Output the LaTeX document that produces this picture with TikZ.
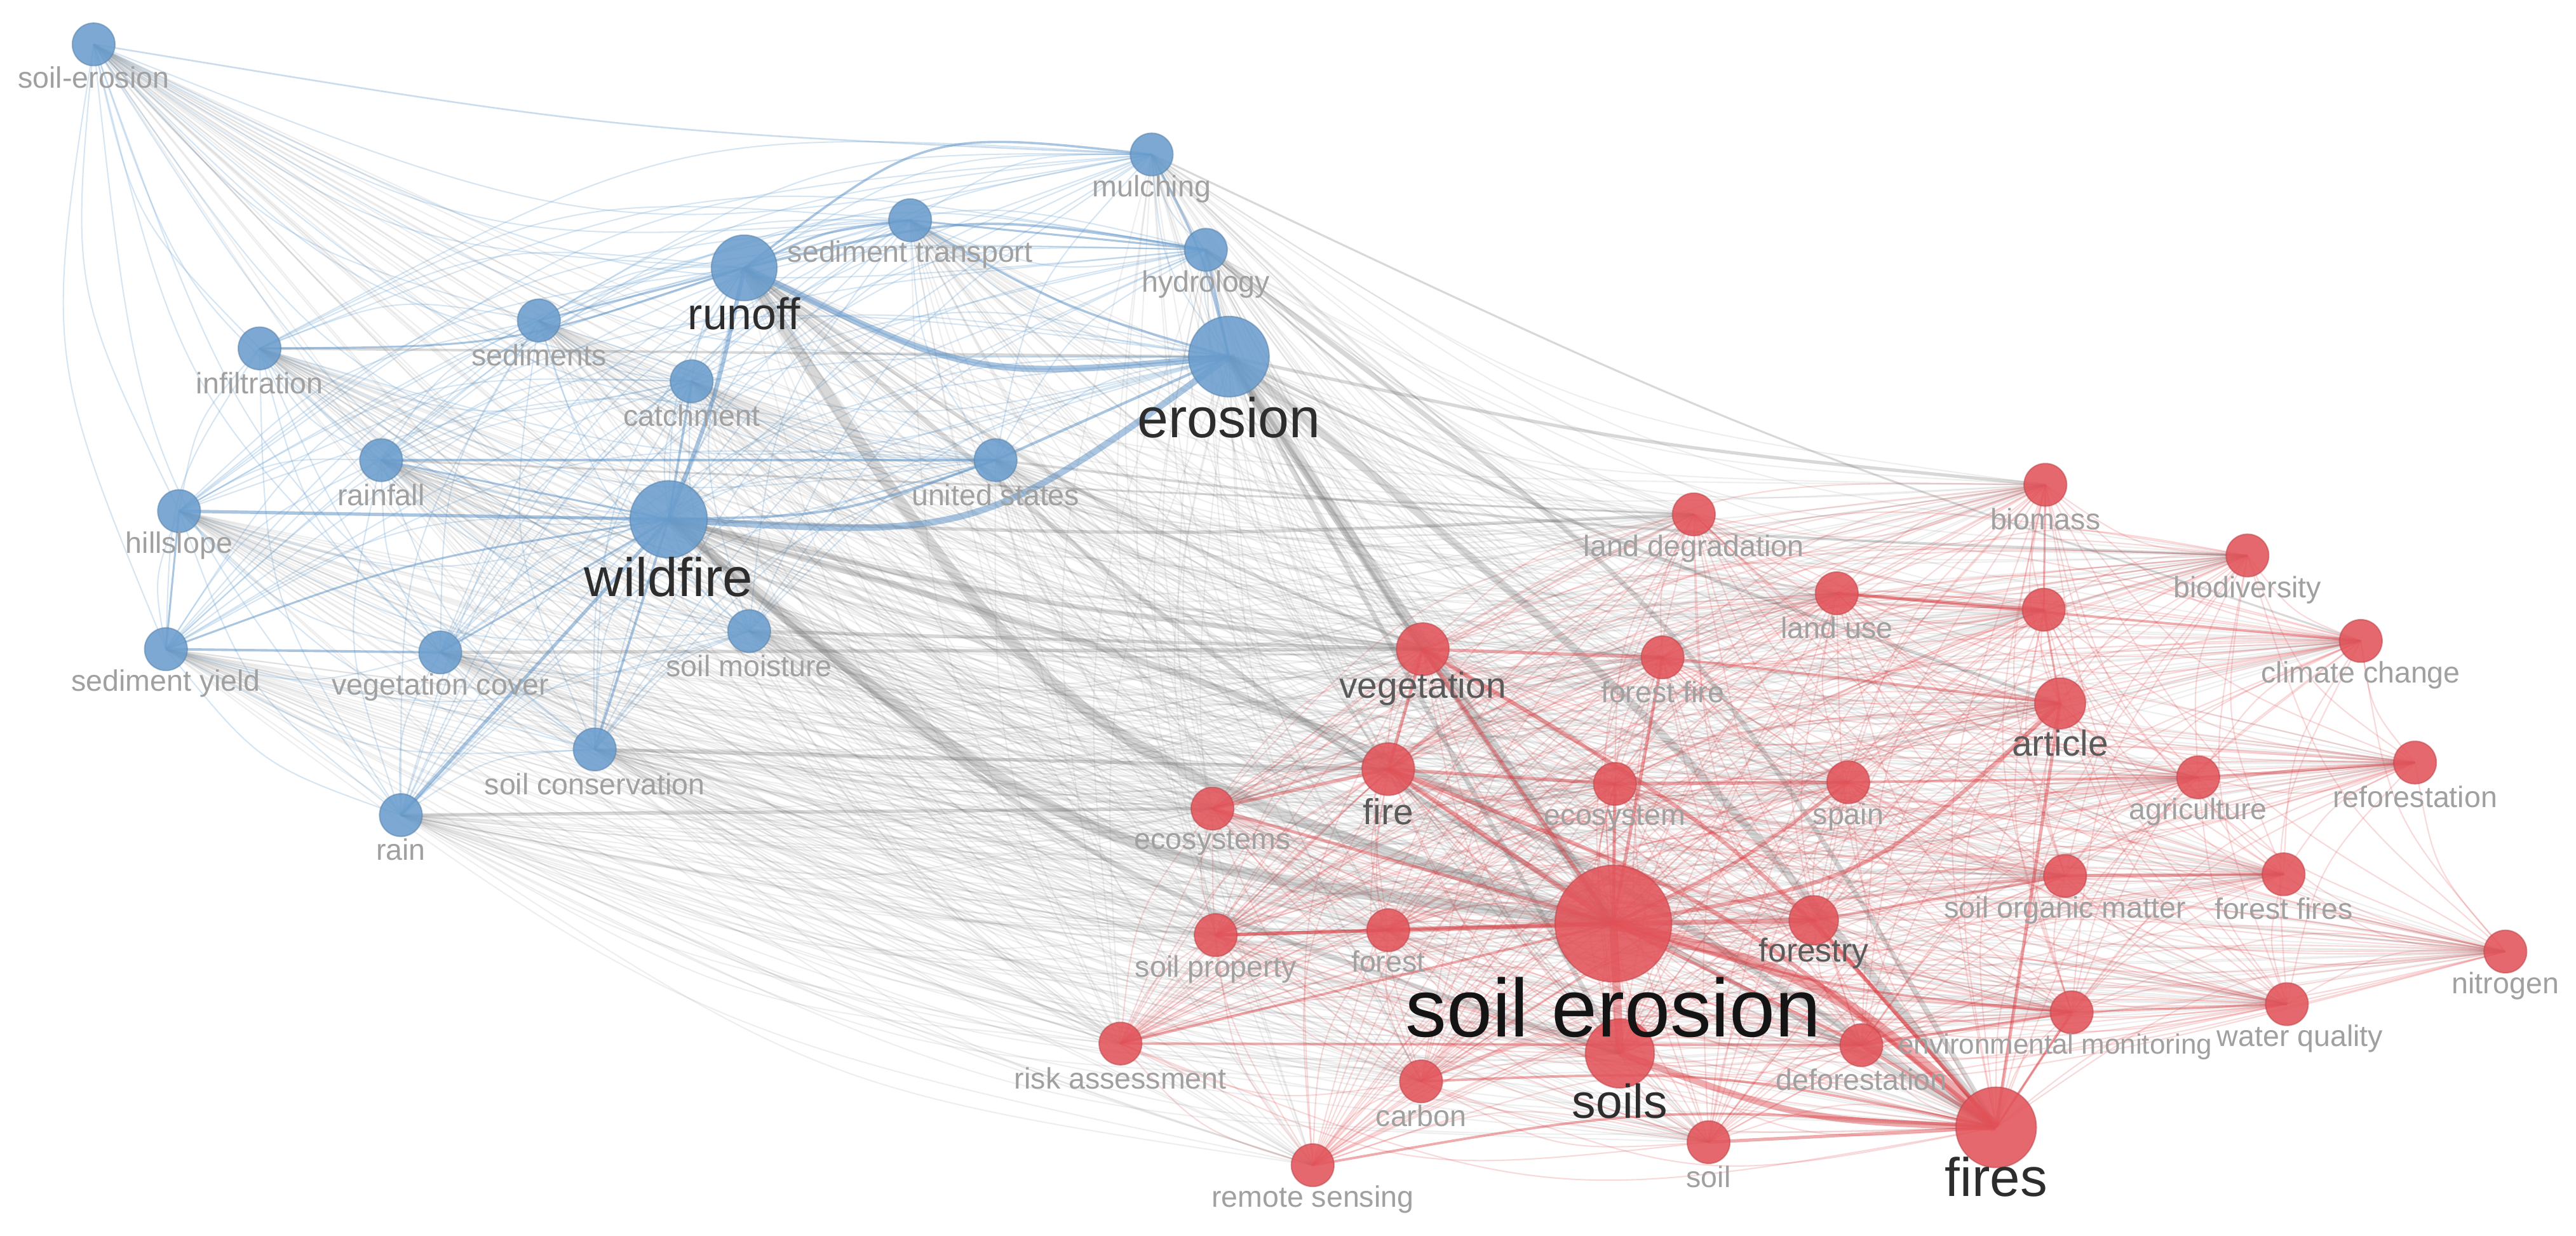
\documentclass[tikz,border=0pt]{standalone}
\usepackage{fontspec}
\setmainfont{Liberation Sans}
\usetikzlibrary{calc}
\pgfdeclarelayer{edges}
\pgfsetlayers{edges,main}
\definecolor{nblue}{RGB}{106,157,205}
\definecolor{nred}{RGB}{226,84,90}
\definecolor{eblue}{RGB}{120,170,215}
\definecolor{eblued}{RGB}{85,140,195}
\definecolor{ered}{RGB}{228,80,85}
\definecolor{ereddk}{RGB}{215,55,60}
\definecolor{egray}{RGB}{120,120,120}
\definecolor{egrayd}{RGB}{105,105,105}
\definecolor{lgray}{RGB}{160,160,160}
\definecolor{mgray}{RGB}{90,90,90}
\definecolor{dgray}{RGB}{45,45,45}
\definecolor{xgray}{RGB}{20,20,20}
\def\bl{soilerosionb,mulching,sedtrans,hydrology,runoff,sediments,infiltration,erosion,catchment,rainfall,unitedstates,hillslope,wildfire,sedyield,vegcover,soilmoisture,soilcons,rain}
\def\rl{landdeg,biomass,biodiv,landuse,unnamed,climate,vegetation,forestfire,article,fire,ecosystem,spain,agriculture,reforest,ecosystems,soilerosion,som,forestfires,forestry,soilprop,forest,nitrogen,waterq,envmon,soils,deforest,risk,carbon,fires,soil,remote}
\begin{document}
\begin{tikzpicture}[x=1pt,y=-1pt,
  kw/.style={circle,inner sep=0pt,fill opacity=0.88,draw opacity=0.5,line width=0.8pt},
  bn/.style={kw,fill=nblue,draw=nblue!80!black,minimum size=26pt},
  rn/.style={kw,fill=nred,draw=nred!80!black,minimum size=26pt},
  sl/.style={text=lgray,font=\fontsize{18}{18}\selectfont,inner sep=0pt},
  ml/.style={text=mgray,inner sep=0pt},
  ll/.style={text=dgray,inner sep=0pt},
  bthin/.style={draw=eblue,line width=0.8pt,opacity=0.3},
  rthin/.style={draw=ered,line width=0.8pt,opacity=0.22},
  gthin/.style={draw=egray,line width=0.8pt,opacity=0.12},
  bthick/.style={draw=eblued,opacity=0.5},
  rthick/.style={draw=ereddk,opacity=0.42},
  gthick/.style={draw=egrayd,opacity=0.26}]
\useasboundingbox (0,0) rectangle (1568,752);
% ---- blue keywords
\node[bn] (soilerosionb) at (57,27) {};
\node[bn] (mulching) at (701,94) {};
\node[bn] (sedtrans) at (554,134) {};
\node[bn] (hydrology) at (734,152) {};
\node[bn,minimum size=40pt] (runoff) at (453,163) {};
\node[bn] (sediments) at (328,195) {};
\node[bn] (infiltration) at (158,212) {};
\node[bn,minimum size=49pt] (erosion) at (748,217) {};
\node[bn] (catchment) at (421,232) {};
\node[bn] (rainfall) at (232,280) {};
\node[bn] (unitedstates) at (606,280) {};
\node[bn] (hillslope) at (109,311) {};
\node[bn,minimum size=47pt] (wildfire) at (407,316) {};
\node[bn] (sedyield) at (101,395) {};
\node[bn] (vegcover) at (268,397) {};
\node[bn] (soilmoisture) at (456,384) {};
\node[bn] (soilcons) at (362,456) {};
\node[bn] (rain) at (244,496) {};
% ---- red keywords
\node[rn] (landdeg) at (1031,313) {};
\node[rn] (biomass) at (1245,295) {};
\node[rn] (biodiv) at (1368,338) {};
\node[rn] (landuse) at (1118,361) {};
\node[rn] (unnamed) at (1244,371) {};
\node[rn] (climate) at (1437,390) {};
\node[rn,minimum size=32pt] (vegetation) at (866,395) {};
\node[rn] (forestfire) at (1012,400) {};
\node[rn,minimum size=31pt] (article) at (1254,428) {};
\node[rn,minimum size=32pt] (fire) at (845,468) {};
\node[rn] (ecosystem) at (983,477) {};
\node[rn] (spain) at (1125,476) {};
\node[rn] (agriculture) at (1338,473) {};
\node[rn] (reforest) at (1470,464) {};
\node[rn] (ecosystems) at (738,492) {};
\node[rn,minimum size=71pt] (soilerosion) at (982,562) {};
\node[rn] (som) at (1257,533) {};
\node[rn] (forestfires) at (1390,532) {};
\node[rn,minimum size=30pt] (forestry) at (1104,560) {};
\node[rn] (soilprop) at (740,569) {};
\node[rn] (forest) at (845,566) {};
\node[rn] (nitrogen) at (1525,579) {};
\node[rn] (waterq) at (1392,611) {};
\node[rn] (envmon) at (1261,616) {};
\node[rn,minimum size=42pt] (soils) at (986,641) {};
\node[rn] (deforest) at (1133,636) {};
\node[rn] (risk) at (682,635) {};
\node[rn] (carbon) at (865,658) {};
\node[rn,minimum size=49pt] (fires) at (1215,686) {};
\node[rn] (soil) at (1040,695) {};
\node[rn] (remote) at (799,709) {};
% ---- labels
\node[sl] (l-soilerosionb) at (57,47) {soil-erosion};
\node[sl] (l-mulching) at (701,115) {mulching};
\node[sl] (l-sedtrans) at (554,155) {sediment transport};
\node[sl] (l-hydrology) at (734,173) {hydrology};
\node[ll,font=\fontsize{27}{27}\selectfont] (l-runoff) at (453,191) {runoff};
\node[sl] (l-sediments) at (328,216) {sediments};
\node[sl] (l-infiltration) at (158,233) {infiltration};
\node[ll,font=\fontsize{34}{34}\selectfont] (l-erosion) at (748,254) {erosion};
\node[sl] (l-catchment) at (421,253) {catchment};
\node[sl] (l-rainfall) at (232,301) {rainfall};
\node[sl] (l-unitedstates) at (606,301) {united states};
\node[sl] (l-hillslope) at (109,332) {hillslope};
\node[ll,font=\fontsize{33}{33}\selectfont] (l-wildfire) at (407,351) {wildfire};
\node[sl] (l-sedyield) at (101,416) {sediment yield};
\node[sl] (l-vegcover) at (268,418) {vegetation cover};
\node[sl] (l-soilmoisture) at (456,405) {soil moisture};
\node[sl] (l-soilcons) at (362,477) {soil conservation};
\node[sl] (l-rain) at (244,517) {rain};
\node[sl] (l-landdeg) at (1031,334) {land degradation};
\node[sl] (l-biomass) at (1245,316) {biomass};
\node[sl] (l-biodiv) at (1368,359) {biodiversity};
\node[sl] (l-landuse) at (1118,382) {land use};
\node[sl] (l-climate) at (1437,411) {climate change};
\node[ml,font=\fontsize{22}{22}\selectfont] (l-vegetation) at (866,419) {vegetation};
\node[sl] (l-forestfire) at (1012,421) {forest fire};
\node[ml,font=\fontsize{22}{22}\selectfont] (l-article) at (1254,452) {article};
\node[ml,font=\fontsize{22}{22}\selectfont] (l-fire) at (845,494) {fire};
\node[sl] (l-ecosystem) at (983,498) {ecosystem};
\node[sl] (l-spain) at (1125,497) {spain};
\node[sl] (l-agriculture) at (1338,494) {agriculture};
\node[sl] (l-reforest) at (1470,485) {reforestation};
\node[sl] (l-ecosystems) at (738,513) {ecosystems};
\node[ll,text=xgray,font=\fontsize{50}{50}\selectfont] (l-soilerosion) at (982,613) {soil erosion};
\node[sl] (l-som) at (1257,554) {soil organic matter};
\node[sl] (l-forestfires) at (1390,553) {forest fires};
\node[ml,font=\fontsize{20}{20}\selectfont] (l-forestry) at (1104,580) {forestry};
\node[sl] (l-soilprop) at (740,590) {soil property};
\node[sl] (l-forest) at (845,585) {forest};
\node[sl] (l-nitrogen) at (1525,600) {nitrogen};
\node[sl] (l-waterq) at (1400,632) {water quality};
\node[sl,font=\fontsize{17}{17}\selectfont] (l-envmon) at (1251,637) {environmental monitoring};
\node[ll,font=\fontsize{29}{29}\selectfont] (l-soils) at (986,670) {soils};
\node[sl] (l-deforest) at (1133,657) {deforestation};
\node[sl] (l-risk) at (682,656) {risk assessment};
\node[sl] (l-carbon) at (865,679) {carbon};
\node[ll,font=\fontsize{33}{33}\selectfont] (l-fires) at (1215,716) {fires};
\node[sl] (l-soil) at (1040,716) {soil};
\node[sl] (l-remote) at (799,730) {remote sensing};
% ---- connectors
\begin{pgfonlayer}{edges}
\fill[white] (0,0) rectangle (1568,752);
\foreach \a [count=\i] in \bl {
  \foreach \b [count=\j] in \bl {
    \ifnum\j>\i
      \draw[bthin] (\a.center) .. controls ($(\a.center)!0.5!(\b.center)!0.28!-90:(\b.center)$) .. (\b.center);
    \fi
  }
}
\foreach \a [count=\i] in \rl {
  \foreach \b [count=\j] in \rl {
    \ifnum\j>\i
      \draw[rthin] (\a.center) .. controls ($(\a.center)!0.5!(\b.center)!0.28!-90:(\b.center)$) .. (\b.center);
    \fi
  }
}
\foreach \a in \bl {
  \foreach \b in \rl {
    \draw[gthin] (\a.center) .. controls ($(\a.center)!0.5!(\b.center)!0.22!-90:(\b.center)$) .. (\b.center);
  }
}
\foreach \a/\b/\w/\f in {runoff/soilerosion/7/-0.36, erosion/soilerosion/7/0, erosion/fires/5/0.1,
  hydrology/fires/3/0.2, wildfire/soilerosion/7/-0.3, wildfire/fires/4/0.15, wildfire/vegetation/3/-0.06,
  wildfire/soils/3/-0.2, runoff/fires/3/-0.1, erosion/soils/3/0, erosion/vegetation/2.5/0,
  runoff/vegetation/2/-0.1, erosion/biomass/2/-0.06, erosion/article/2/-0.06, mulching/climate/1.2/-0.06,
  unitedstates/biodiv/1.5/-0.04, wildfire/landdeg/2/-0.04, vegcover/vegetation/2/0, soilmoisture/vegetation/2/0,
  soilcons/fire/2/0, rain/ecosystems/2/0, infiltration/erosion/1.5/0, rainfall/landdeg/1.2/0}
  \draw[gthick,line width=\w pt] (\a.center) .. controls ($(\a.center)!0.5!(\b.center)!\f!90:(\b.center)$) .. (\b.center);
\foreach \a/\b/\w/\f in {runoff/erosion/4/-0.28, wildfire/erosion/4/-0.36, wildfire/runoff/2.5/-0.08,
  runoff/mulching/1.4/0.4, runoff/hydrology/1.5/0.2, runoff/sedtrans/1.4/0.16, erosion/sedtrans/1.4/0.12,
  erosion/mulching/1.4/-0.12, erosion/hydrology/1.4/0, erosion/unitedstates/1.6/0, wildfire/rain/2/0,
  wildfire/soilcons/1.5/0, wildfire/hillslope/2/0, wildfire/rainfall/1.2/0, wildfire/sedyield/1.2/-0.1,
  wildfire/vegcover/1.2/0, wildfire/catchment/1.5/0, wildfire/unitedstates/1.5/-0.16,
  runoff/sediments/1.2/0, runoff/infiltration/1.2/0.16,
  hillslope/sedyield/1.2/0, rainfall/unitedstates/1.5/0, sedyield/vegcover/1.5/0, sedtrans/hydrology/1.2/0}
  \draw[bthick,line width=\w pt] (\a.center) .. controls ($(\a.center)!0.5!(\b.center)!\f!90:(\b.center)$) .. (\b.center);
\draw[bthick,opacity=0.3,line width=1pt] (soilerosionb.center) .. controls ($(soilerosionb.center)!0.5!(mulching.center)!-0.06!90:(mulching.center)$) .. (mulching.center);
\foreach \a/\b/\w/\f in {soilerosion/fires/7/0.24, soilerosion/soils/5/0, soils/fires/4/-0.16,
  soilerosion/fire/3/0, soilerosion/vegetation/2.5/0, soilerosion/forestry/3/0, soilerosion/article/2.5/-0.3,
  soilerosion/forest/3/0, soilerosion/soilprop/2/0, soilerosion/ecosystems/2/0, soilerosion/forestfire/2/0,
  soilerosion/spain/2/-0.1, soilerosion/ecosystem/2/0, soilerosion/deforest/2/0, soilerosion/envmon/1.5/-0.1,
  soilerosion/risk/1.5/0, fire/vegetation/2/0, fire/fires/2.5/0.16, vegetation/fires/2.5/0.16,
  forestry/fires/2/0, article/fires/2/0, fires/soil/2/0, fires/deforest/2/0, fires/carbon/1.5/-0.12,
  fires/remote/1.5/-0.12, fires/envmon/1.5/0, vegetation/forestfire/2/0, forestfire/article/1.5/0,
  landuse/unnamed/1.8/0, landuse/climate/1.5/0, fire/ecosystem/2/0, ecosystem/spain/2/0,
  spain/agriculture/1.5/0, agriculture/reforest/1.5/0, ecosystems/fire/2/0, soilprop/forest/2/0,
  forestry/som/1.5/0, som/forestfires/1.5/0, risk/deforest/1.5/0, deforest/envmon/1.5/0,
  envmon/waterq/1.2/0, biomass/unnamed/1.2/0, unnamed/article/1.2/0}
  \draw[rthick,line width=\w pt] (\a.center) .. controls ($(\a.center)!0.5!(\b.center)!\f!90:(\b.center)$) .. (\b.center);
\end{pgfonlayer}
\end{tikzpicture}
\end{document}
